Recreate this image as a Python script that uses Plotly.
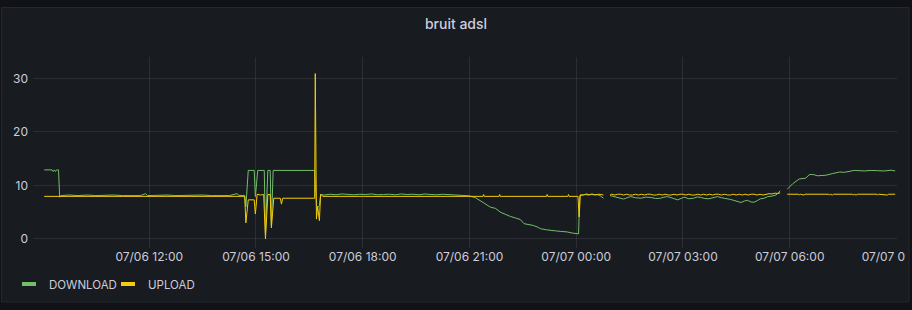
import pandas as pd
import plotly.graph_objects as go

# ---------------- data ----------------
download_times = [
    "07-06 09:03", "07-06 09:16", "07-06 09:18", "07-06 09:20", "07-06 09:22", "07-06 09:24", "07-06 09:27", "07-06 09:29",
    "07-06 09:31", "07-06 09:45", "07-06 10:00", "07-06 10:15", "07-06 10:30", "07-06 10:45", "07-06 11:00", "07-06 11:15",
    "07-06 11:30", "07-06 11:45", "07-06 11:54", "07-06 11:57", "07-06 12:15", "07-06 12:30", "07-06 12:45", "07-06 13:00",
    "07-06 13:15", "07-06 13:30", "07-06 13:45", "07-06 14:00", "07-06 14:15", "07-06 14:28", "07-06 14:31", "07-06 14:41",
    "07-06 14:43", "07-06 14:47", "07-06 14:57", "07-06 14:59", "07-06 15:03", "07-06 15:14", "07-06 15:16", "07-06 15:20",
    "07-06 15:24", "07-06 15:26", "07-06 15:29", "07-06 16:39", "07-06 16:42", "07-06 16:44", "07-06 16:47", "07-06 16:49",
    "07-06 16:55", "07-06 17:05", "07-06 17:15", "07-06 17:25", "07-06 17:35", "07-06 17:45", "07-06 17:55", "07-06 18:05",
    "07-06 18:15", "07-06 18:25", "07-06 18:35", "07-06 18:45", "07-06 18:55", "07-06 19:05", "07-06 19:15", "07-06 19:25",
    "07-06 19:35", "07-06 19:45", "07-06 19:55", "07-06 20:05", "07-06 20:15", "07-06 20:25", "07-06 20:35", "07-06 20:45",
    "07-06 20:55", "07-06 21:00", "07-06 21:10", "07-06 21:18", "07-06 21:26", "07-06 21:35", "07-06 21:44", "07-06 21:52",
    "07-06 22:00", "07-06 22:09", "07-06 22:18", "07-06 22:26", "07-06 22:32", "07-06 22:40", "07-06 22:48", "07-06 22:55",
    "07-06 23:00", "07-06 23:10", "07-06 23:17", "07-06 23:25", "07-06 23:34", "07-06 23:40", "07-06 23:45", "07-06 23:53",
    "07-07 00:04", "07-07 00:06", "07-07 00:10", "07-07 00:15", "07-07 00:20", "07-07 00:25", "07-07 00:30", "07-07 00:35",
    "07-07 00:40", "07-07 00:46", "07-07 00:51", "07-07 00:57", "07-07 01:06", "07-07 01:13", "07-07 01:20", "07-07 01:26",
    "07-07 01:32", "07-07 01:40", "07-07 01:49", "07-07 01:57", "07-07 02:06", "07-07 02:14", "07-07 02:22", "07-07 02:28",
    "07-07 02:34", "07-07 02:43", "07-07 02:51", "07-07 03:02", "07-07 03:10", "07-07 03:18", "07-07 03:24", "07-07 03:30",
    "07-07 03:37", "07-07 03:44", "07-07 03:51", "07-07 03:58", "07-07 04:05", "07-07 04:12", "07-07 04:19", "07-07 04:26",
    "07-07 04:32", "07-07 04:38", "07-07 04:44", "07-07 04:49", "07-07 04:55", "07-07 05:00", "07-07 05:06", "07-07 05:11",
    "07-07 05:17", "07-07 05:23", "07-07 05:30", "07-07 05:37", "07-07 05:41", "07-07 05:44", "07-07 05:50", "07-07 05:56",
    "07-07 06:05", "07-07 06:16", "07-07 06:27", "07-07 06:33", "07-07 06:39", "07-07 06:47", "07-07 06:54", "07-07 07:01",
    "07-07 07:12", "07-07 07:24", "07-07 07:32", "07-07 07:40", "07-07 07:49", "07-07 08:06", "07-07 08:17", "07-07 08:28",
    "07-07 08:40", "07-07 08:51", "07-07 08:58",
]
download_values = [
    12.9, 12.9, 12.6, 12.9, 12.6, 12.9, 12.9, 7.8,
    8.1, 8.2, 8.1, 8.2, 8.1, 8.15, 8.2, 8.1,
    8.15, 8.1, 8.45, 8.1, 8.15, 8.2, 8.1, 8.15,
    8.1, 8.2, 8.1, 8.15, 8.1, 8.45, 8.15, 8.1,
    6.0, 12.8, 12.8, 7.9, 12.8, 12.8, 1.0, 12.8,
    12.8, 2.5, 12.8, 12.8, 6.3, 5.9, 6.2, 8.3,
    8.2, 8.35, 8.25, 8.4, 8.3, 8.25, 8.35, 8.3,
    8.4, 8.25, 8.3, 8.35, 8.25, 8.4, 8.3, 8.35,
    8.25, 8.4, 8.3, 8.25, 8.35, 8.3, 8.2, 8.1,
    8.05, 8.05, 7.7, 7.2, 6.6, 5.95, 5.7, 5.0,
    4.6, 4.2, 3.9, 3.6, 2.85, 2.7, 2.5, 2.2,
    1.9, 1.7, 1.55, 1.5, 1.4, 1.35, 1.3, 1.1,
    0.95, 8.1, 8.2, 8.3, 8.2, 8.3, 8.25, 8.3,
    8.1, 7.6, None, 8.1, 7.8, 7.6, 7.45, 7.7,
    7.9, 7.7, 7.6, 7.8, 7.75, 7.55, 7.6, 7.8,
    7.9, 7.6, 7.3, 7.8, 7.5, 7.6, 7.85, 7.75,
    7.55, 7.5, 7.7, 7.9, 7.7, 7.6, 7.4, 7.2,
    7.0, 6.8, 7.1, 7.2, 6.9, 6.85, 7.2, 7.5,
    7.6, 7.9, 8.0, 8.2, 8.6, 9.0, None, 9.3,
    10.3, 11.2, 11.35, 12.0, 12.05, 11.8, 11.85, 11.9,
    12.2, 12.5, 12.45, 12.55, 12.8, 12.7, 12.8, 12.75,
    12.7, 12.85, 12.7,
]

upload_times = [
    "07-06 09:03", "07-06 10:30", "07-06 12:00", "07-06 13:30", "07-06 14:41", "07-06 14:43", "07-06 14:47", "07-06 14:57",
    "07-06 14:59", "07-06 15:02", "07-06 15:08", "07-06 15:13", "07-06 15:16", "07-06 15:20", "07-06 15:24", "07-06 15:26",
    "07-06 15:30", "07-06 15:41", "07-06 15:43", "07-06 15:45", "07-06 16:39", "07-06 16:40", "07-06 16:42", "07-06 16:44",
    "07-06 16:47", "07-06 16:49", "07-06 16:53", "07-06 18:00", "07-06 20:00", "07-06 21:23", "07-06 21:24", "07-06 21:25",
    "07-06 21:50", "07-06 21:51", "07-06 21:52", "07-06 23:10", "07-06 23:11", "07-06 23:12", "07-06 23:46", "07-06 23:47",
    "07-06 23:48", "07-07 00:03", "07-07 00:05", "07-07 00:07", "07-07 00:12", "07-07 00:17", "07-07 00:22", "07-07 00:27",
    "07-07 00:32", "07-07 00:37", "07-07 00:42", "07-07 00:46", "07-07 00:51", "07-07 00:57",
    "07-07 01:00", "07-07 01:05", "07-07 01:10", "07-07 01:15", "07-07 01:20", "07-07 01:25", "07-07 01:30", "07-07 01:35",
    "07-07 01:40", "07-07 01:45", "07-07 01:50", "07-07 01:55", "07-07 02:00", "07-07 02:05", "07-07 02:10", "07-07 02:15",
    "07-07 02:20", "07-07 02:25", "07-07 02:30", "07-07 02:35", "07-07 02:40", "07-07 02:45", "07-07 02:50", "07-07 02:55",
    "07-07 03:00", "07-07 03:05", "07-07 03:10", "07-07 03:15", "07-07 03:20", "07-07 03:25", "07-07 03:30", "07-07 03:35",
    "07-07 03:40", "07-07 03:45", "07-07 03:50", "07-07 03:55", "07-07 04:00", "07-07 04:05", "07-07 04:10", "07-07 04:15",
    "07-07 04:20", "07-07 04:25", "07-07 04:30", "07-07 04:35", "07-07 04:40", "07-07 04:45", "07-07 04:50", "07-07 04:55",
    "07-07 05:00", "07-07 05:05", "07-07 05:10", "07-07 05:15", "07-07 05:20", "07-07 05:25", "07-07 05:30", "07-07 05:35",
    "07-07 05:40", "07-07 05:44", "07-07 05:50",
    "07-07 05:56", "07-07 06:15", "07-07 06:16", "07-07 06:18", "07-07 06:24", "07-07 06:26", "07-07 07:06", "07-07 07:07",
    "07-07 07:09", "07-07 07:12", "07-07 07:14", "07-07 07:46", "07-07 07:47", "07-07 07:49", "07-07 07:52", "07-07 07:54",
    "07-07 08:27", "07-07 08:28", "07-07 08:30", "07-07 08:45", "07-07 08:47", "07-07 08:58",
]
upload_values = [
    7.95, 7.95, 7.95, 7.95, 7.95, 3.0, 7.3, 7.3,
    4.65, 8.35, 8.2, 8.3, 0.0, 8.3, 8.3, 2.05,
    7.6, 7.6, 6.5, 7.6, 7.6, 30.9, 3.7, 6.0,
    3.4, 8.3, 7.95, 7.95, 7.95, 7.95, 8.3, 7.95,
    7.95, 8.3, 7.95, 7.95, 8.3, 7.95, 7.95, 8.3,
    7.95, 7.95, 4.1, 8.25, 8.2, 8.4, 8.25, 8.4,
    8.2, 8.35, 8.3, 8.2, None, 8.2,
    8.35, 8.2, 8.35, 8.35, 8.2, 8.35, 8.2, 8.2,
    8.35, 8.2, 8.35, 8.2, 8.35, 8.35, 8.2, 8.2,
    8.35, 8.2, 8.35, 8.2, 8.2, 8.35, 8.2, 8.35,
    8.35, 8.2, 8.35, 8.2, 8.2, 8.35, 8.2, 8.35,
    8.2, 8.35, 8.2, 8.35, 8.35, 8.2, 8.35, 8.2,
    8.2, 8.35, 8.2, 8.35, 8.2, 8.35, 8.2, 8.35,
    8.35, 8.2, 8.35, 8.2, 8.35, 8.45, 8.4, 8.55,
    8.5, 8.6, None,
    8.35, 8.35, 8.2, 8.35, 8.2, 8.35, 8.35, 8.2,
    8.35, 8.2, 8.35, 8.35, 8.2, 8.35, 8.2, 8.35,
    8.35, 8.2, 8.35, 8.2, 8.35, 8.35,
]

x_ticks = ["07-06 12:00", "07-06 15:00", "07-06 18:00", "07-06 21:00",
           "07-07 00:00", "07-07 03:00", "07-07 06:00", "07-07 09:00"]
y_ticks = [0, 10, 20, 30]
x_window = ["07-06 08:44", "07-07 09:01"]
y_window = [-1.7, 34.0]

YEAR = "2020-"


def to_dt(seq):
    return pd.to_datetime([YEAR + s for s in seq])


# ---------------- style ----------------
GREEN = "#73BF69"
YELLOW = "#F2CC0C"
PANEL = "#181b1f"
OUTER = "#111217"
TEXT = "#ccccdc"
GRID = "rgba(204,204,220,0.10)"
FONT = "Inter"

W, H = 912, 310
ML, MR, MT, MB = 33, 15, 57, 62
PW, PH = W - ML - MR, H - MT - MB


def px_x(p):
    return (p - ML) / PW


def px_y(p):
    return 1 - (p - MT) / PH


fig = go.Figure()

fig.add_trace(go.Scatter(
    x=to_dt(download_times), y=download_values, mode="lines", name="DOWNLOAD",
    line=dict(color=GREEN, width=1), connectgaps=False, showlegend=False,
))
fig.add_trace(go.Scatter(
    x=to_dt(upload_times), y=upload_values, mode="lines", name="UPLOAD",
    line=dict(color=YELLOW, width=1), connectgaps=False, showlegend=False,
))
# legend swatches
for name, col in [("DOWNLOAD", GREEN), ("UPLOAD", YELLOW)]:
    fig.add_trace(go.Scatter(
        x=[None], y=[None], mode="markers", name=name,
        marker=dict(symbol="line-ew", size=10, color=col, line=dict(width=4, color=col)),
        showlegend=True, hoverinfo="skip",
    ))

shapes = [
    # panel background
    dict(type="rect", xref="paper", yref="paper", layer="below",
         x0=px_x(1.5), x1=px_x(909), y0=px_y(302), y1=px_y(7.5),
         fillcolor=PANEL, line=dict(width=0)),
    # clip of the right-most tick label at panel padding
    dict(type="rect", xref="paper", yref="paper", layer="above",
         x0=px_x(905.5), x1=px_x(909), y0=px_y(272), y1=px_y(250),
         fillcolor=PANEL, line=dict(width=0)),
    dict(type="rect", xref="paper", yref="paper", layer="above",
         x0=px_x(909), x1=px_x(930), y0=px_y(272), y1=px_y(250),
         fillcolor=OUTER, line=dict(width=0)),
    # panel border
    dict(type="rect", xref="paper", yref="paper", layer="above",
         x0=px_x(1.5), x1=px_x(909), y0=px_y(302), y1=px_y(7.5),
         fillcolor="rgba(0,0,0,0)", line=dict(color="#25282d", width=1)),
]

fig.update_layout(
    width=W, height=H,
    margin=dict(l=ML, r=MR, t=MT, b=MB, pad=0, autoexpand=False),
    paper_bgcolor=OUTER, plot_bgcolor="rgba(0,0,0,0)",
    font=dict(family=FONT, size=12, color=TEXT),
    title=dict(text="bruit adsl", x=0.5, xref="container", xanchor="center",
               y=1 - 24 / H, yref="container", yanchor="middle",
               font=dict(family=FONT, size=14, color=TEXT, weight=500)),
    xaxis=dict(type="date", range=to_dt(x_window), tickvals=to_dt(x_ticks),
               tickformat="%m/%d %H:%M", showgrid=True, gridcolor=GRID, gridwidth=1,
               zeroline=False, showline=False, ticks="", ticklabeloverflow="allow",
               automargin=False, tickfont=dict(size=12, color=TEXT)),
    yaxis=dict(range=y_window, tickvals=y_ticks, showgrid=True, gridcolor=GRID, gridwidth=1,
               zeroline=False, showline=False, ticks="", ticklabelstandoff=4,
               automargin=False, tickfont=dict(size=12, color=TEXT)),
    legend=dict(orientation="h", x=px_x(9), xanchor="left", y=px_y(284), yanchor="middle",
                bgcolor="rgba(0,0,0,0)", font=dict(size=11.5, color=TEXT), itemwidth=30,
                entrywidth=54, entrywidthmode="pixels", traceorder="normal"),
    shapes=shapes,
    hovermode=False,
)

fig.write_html("out.html", config={"displayModeBar": False})
